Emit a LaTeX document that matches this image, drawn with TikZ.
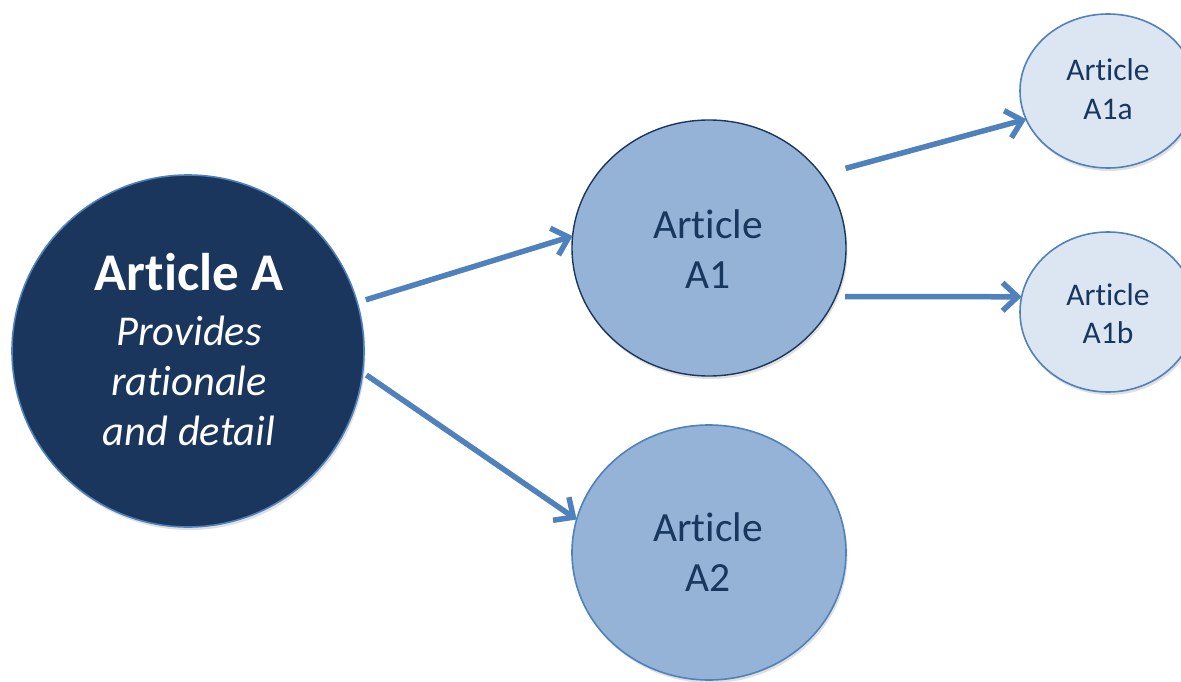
\documentclass[tikz,border=0pt]{standalone}
\usepackage{fontspec}
\setmainfont[Ligatures=NoCommon]{Carlito}
\usetikzlibrary{arrows.meta,shapes.geometric,shadows}
\definecolor{navy}{HTML}{1A365D}
\definecolor{accent}{HTML}{4F81BD}
\definecolor{midblue}{HTML}{95B3D7}
\definecolor{paleblue}{HTML}{DCE6F2}
\definecolor{txtnavy}{HTML}{17375E}
\begin{document}
\begin{tikzpicture}[x=1pt,y=-1pt,
  bub/.style={ellipse, inner sep=0pt, outer sep=0pt, line width=1.6pt,
    drop shadow={fill=black, opacity=0.12, shadow xshift=1.5pt, shadow yshift=-3pt}},
  arr/.style={draw=accent, line width=5.5pt, -{Straight Barb[length=15pt,width=28pt]}},
  lbl/.style={align=center, anchor=base, inner sep=0pt}]
\clip (0,0) rectangle (1181,682);
\fill[white] (0,0) rectangle (1181,682);
% circles
\node[bub, fill=navy, draw=accent, minimum width=352pt, minimum height=352pt] (A) at (188,351) {};
\node[bub, fill=midblue, draw=navy, line width=1.4pt, minimum width=274pt, minimum height=256pt] (A1) at (709,248) {};
\node[bub, fill=midblue, draw=accent, minimum width=274pt, minimum height=255pt] (A2) at (709,552.5) {};
\node[bub, fill=paleblue, draw=accent, minimum width=176pt, minimum height=154pt] (A1a) at (1108,91) {};
\node[bub, fill=paleblue, draw=accent, minimum width=176pt, minimum height=160pt] (A1b) at (1108,312) {};
% texts (base anchor = baseline of last line)
\node[lbl, text=white, font=\fontsize{42.5}{50}\selectfont\itshape] (At) at (189,445)
  {{\fontsize{53}{55}\selectfont\bfseries\upshape Article A}\\[5pt]Provides\\rationale\\and detail};
\node[lbl, text=txtnavy, font=\fontsize{41.5}{50}\selectfont] (A1t) at (708,288.3) {Article\\A1};
\node[lbl, text=txtnavy, font=\fontsize{41.5}{50}\selectfont] (A2t) at (708,591.7) {Article\\A2};
\node[lbl, text=txtnavy, font=\fontsize{31.5}{38.3}\selectfont] (A1at) at (1108,119.3) {Article\\A1a};
\node[lbl, text=txtnavy, font=\fontsize{31.5}{38.3}\selectfont] (A1bt) at (1108,343.3) {Article\\A1b};
% arrows
\draw[arr, shorten <=9pt] (A.16.6) -- (A1.175);
\draw[arr, shorten <=4.5pt] (A.-7.7) -- (A2.166);
\draw[arr, shorten <=25pt] (A1.33) -- (A1a.199);
\draw[arr, shorten <=9.5pt] (A1.-21) -- (A1b.170);
\end{tikzpicture}
\end{document}
